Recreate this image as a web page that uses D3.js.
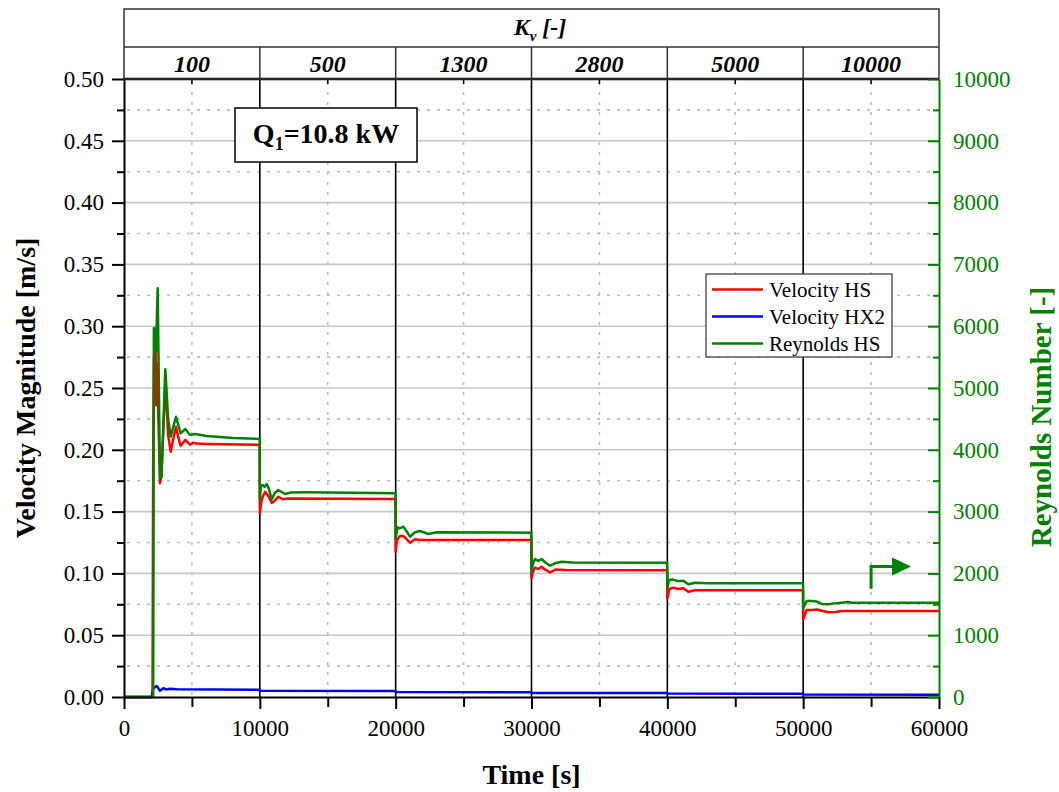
<!DOCTYPE html>
<html><head><meta charset="utf-8">
<script src="https://cdn.jsdelivr.net/npm/d3@7"></script>
<style>body{margin:0;background:#fff}svg{display:block}</style>
</head><body><svg id="c" width="1059" height="792"></svg>
<script>
// ---------------- data ----------------
const kvLabels = ["100", "500", "1300", "2800", "5000", "10000"];
const kvStarts = [0, 10000, 20000, 30000, 40000, 50000];
const seriesNames = ["Velocity HS", "Velocity HX2", "Reynolds HS"];

const timeHS = [0,2100,2150,2200,2250,2330,2370,2430,2650,2750,3043,3250,3436,3650,3828,4000,4170,4515,4859,5100,5300,6086,9990,
  10000,10100,10211,10400,10600,10873,11100,11360,11700,12000,19990,
  20000,20080,20250,20450,20650,21055,21424,21800,29990,
  30000,30100,30257,30500,30748,31000,31362,31800,32500,39990,
  40000,40150,40442,40800,41178,41546,42037,49990,
  50000,50260,50628,50997,51365,51856,52400,52837,60000];
const velocityHS = [0,0,0.20,0.272,0.285,0.283,0.236,0.27,0.173,0.178,0.255,0.212,0.1985,0.21,0.2187,0.21,0.2033,0.208,0.2041,0.2058,0.2050,0.2047,0.2041,
  0.1486,0.158,0.162,0.166,0.163,0.157,0.159,0.162,0.160,0.1605,0.1602,
  0.1176,0.126,0.1297,0.1305,0.1295,0.1248,0.1276,0.127,0.127,
  0.096,0.101,0.1046,0.1035,0.1054,0.103,0.1008,0.1032,0.1027,0.1025,
  0.0798,0.0874,0.0885,0.0874,0.088,0.0852,0.0863,0.0863,
  0.0629,0.0704,0.0704,0.0708,0.0698,0.0685,0.0688,0.0696,0.0696];

const timeHX2 = [0,2036,2150,2405,2650,2896,3141,3387,3878,9990,10000,19990,20000,29990,30000,39990,40000,49990,50000,60000];
const velocityHX2 = [0,0,0.0070,0.0089,0.0051,0.0071,0.0060,0.0066,0.0062,0.0058,0.0050,0.0048,0.0040,0.0039,0.0033,0.0032,0.0028,0.0027,0.0020,0.0019];

const timeRe = [0,2150,2200,2300,2356,2479,2650,2760,3043,3250,3436,3828,4170,4515,4859,5227,6086,8050,9990,
  10000,10080,10211,10350,10505,10650,10873,11100,11360,11853,12300,13450,19990,
  20000,20123,20300,20565,20750,21055,21424,21792,22405,23018,29990,
  30000,30100,30257,30500,30748,31000,31362,31730,32221,33000,39990,
  40000,40122,40442,40800,41178,41546,42037,43000,49990,
  50000,50260,50628,50997,51365,51856,52300,52837,53300,53574,60000];
const reynoldsHS = [0,0,5970,5960,5600,6613,3540,3560,5302,4500,4212,4535,4267,4336,4239,4255,4223,4191,4175,
  3200,3420,3430,3400,3446,3380,3199,3300,3349,3285,3310,3312,3296,
  2560,2746,2730,2756,2700,2594,2665,2686,2637,2665,2659,
  2020,2150,2233,2200,2233,2180,2125,2163,2189,2178,2173,
  1759,1893,1900,1875,1882,1823,1849,1840,1840,
  1435,1553,1553,1545,1505,1500,1515,1526,1537,1526,1526];

const velTicks = [0,0.05,0.10,0.15,0.20,0.25,0.30,0.35,0.40,0.45,0.50];
const velMinor = [0.025,0.075,0.125,0.175,0.225,0.275,0.325,0.375,0.425,0.475];
const reTicks = [0,1000,2000,3000,4000,5000,6000,7000,8000,9000,10000];
const reMinor = [500,1500,2500,3500,4500,5500,6500,7500,8500,9500];
const timeTicks = [0,10000,20000,30000,40000,50000,60000];
const timeMinor = [5000,15000,25000,35000,45000,55000];

// ---------------- chart ----------------
const svg = d3.select("#c");
const FONT = "Liberation Serif";
const GREEN = "#008000";
const x = d3.scaleLinear().domain([0, 60000]).range([124, 939]);
const yL = d3.scaleLinear().domain([0, 0.5]).range([697, 79]);
const yR = d3.scaleLinear().domain([0, 10000]).range([697, 79]);
const [x0, x1] = x.range();
const [yb, yt] = yL.range();

svg.append("rect").attr("width", 1059).attr("height", 792).attr("fill", "#fff");

// grid
const grid = svg.append("g");
grid.selectAll(".hmaj").data(velTicks.slice(1, -1)).join("line")
  .attr("x1", x0).attr("x2", x1).attr("y1", d => yL(d)).attr("y2", d => yL(d))
  .attr("stroke", "#c8c8c8").attr("stroke-width", 1.6);
grid.selectAll(".hmin").data(velMinor).join("line")
  .attr("x1", x0 + 3).attr("x2", x1).attr("y1", d => yL(d)).attr("y2", d => yL(d))
  .attr("stroke", "#bdbdbd").attr("stroke-width", 1.6).attr("stroke-dasharray", "3,7");
grid.selectAll(".vmin").data(timeMinor).join("line")
  .attr("x1", d => x(d)).attr("x2", d => x(d)).attr("y1", yt + 3).attr("y2", yb)
  .attr("stroke", "#bdbdbd").attr("stroke-width", 1.6).attr("stroke-dasharray", "3,7");
grid.selectAll(".vmaj").data(kvStarts.slice(1)).join("line")
  .attr("x1", d => x(d)).attr("x2", d => x(d)).attr("y1", yt).attr("y2", yb)
  .attr("stroke", "#000").attr("stroke-width", 1.6);

// series
const lineL = d3.line().x(d => x(d[0])).y(d => yL(d[1]));
const lineR = d3.line().x(d => x(d[0])).y(d => yR(d[1]));
svg.append("path").datum(d3.zip(timeHS, velocityHS)).attr("d", lineL)
  .attr("fill", "none").attr("stroke", "#ff0000").attr("stroke-width", 2.5).attr("stroke-linejoin", "round");
svg.append("path").datum(d3.zip(timeHX2, velocityHX2)).attr("d", lineL)
  .attr("fill", "none").attr("stroke", "#0000ff").attr("stroke-width", 2.5).attr("stroke-linejoin", "round");
svg.append("path").datum(d3.zip(timeRe, reynoldsHS)).attr("d", lineR)
  .attr("fill", "none").attr("stroke", GREEN).attr("stroke-width", 2.5).attr("stroke-linejoin", "round");

// axes
function style(g, color, fs) {
  g.attr("font-family", FONT);
  g.selectAll("path.domain").attr("stroke", color).attr("stroke-width", 2);
  g.selectAll(".tick line").attr("stroke", color).attr("stroke-width", 2);
  g.selectAll(".tick text").attr("fill", color).attr("font-family", FONT).attr("font-size", fs);
}
const gL = svg.append("g").attr("transform", `translate(${x0},0)`)
  .call(d3.axisLeft(yL).tickValues(velTicks).tickSize(12).tickSizeOuter(0).tickPadding(8).tickFormat(d3.format(".2f")));
style(gL, "#000", 23);
const gLm = svg.append("g").attr("transform", `translate(${x0},0)`)
  .call(d3.axisLeft(yL).tickValues(velMinor).tickSize(7).tickFormat(""));
style(gLm, "#000", 23); gLm.select(".domain").remove();

const gB = svg.append("g").attr("transform", `translate(0,${yb})`)
  .call(d3.axisBottom(x).tickValues(timeTicks).tickSize(12).tickSizeOuter(0).tickPadding(11).tickFormat(d3.format("d")));
style(gB, "#000", 23);
const gBm = svg.append("g").attr("transform", `translate(0,${yb})`)
  .call(d3.axisBottom(x).tickValues(timeMinor).tickSize(10).tickFormat(""));
style(gBm, "#000", 23); gBm.select(".domain").remove();

// top border with inward minor ticks
svg.append("line").attr("x1", x0 - 1).attr("x2", x1).attr("y1", yt).attr("y2", yt).attr("stroke", "#000").attr("stroke-width", 2.5);
svg.selectAll(".topTick").data(timeMinor).join("line")
  .attr("x1", d => x(d)).attr("x2", d => x(d)).attr("y1", yt).attr("y2", yt + 5)
  .attr("stroke", "#000").attr("stroke-width", 1.5);

const gR = svg.append("g").attr("transform", `translate(${x1},0)`)
  .call(d3.axisRight(yR).tickValues(reTicks).tickSizeInner(-11).tickSizeOuter(0).tickPadding(14).tickFormat(d3.format("d")));
style(gR, GREEN, 23);
const gRm = svg.append("g").attr("transform", `translate(${x1},0)`)
  .call(d3.axisRight(yR).tickValues(reMinor).tickSizeInner(-6).tickFormat(""));
style(gRm, GREEN, 23); gRm.select(".domain").remove();

// axis titles
svg.append("text").attr("x", (x0 + x1) / 2).attr("y", 784).attr("text-anchor", "middle")
  .attr("font-family", FONT).attr("font-weight", "bold").attr("font-size", 28).text("Time [s]");
svg.append("text").attr("transform", `translate(35,${(yt + yb) / 2}) rotate(-90)`).attr("text-anchor", "middle")
  .attr("font-family", FONT).attr("font-weight", "bold").attr("font-size", 28).text("Velocity Magnitude [m/s]");
svg.append("text").attr("transform", `translate(1051,417) rotate(-90)`).attr("text-anchor", "middle")
  .attr("font-family", FONT).attr("font-weight", "bold").attr("font-size", 29).attr("fill", GREEN).text("Reynolds Number [-]");

// header (Kv)
const hdr = svg.append("g");
hdr.append("rect").attr("x", x0).attr("y", 9).attr("width", x1 - x0).attr("height", yt - 9)
  .attr("fill", "none").attr("stroke", "#333").attr("stroke-width", 1.5);
hdr.append("line").attr("x1", x0).attr("x2", x1).attr("y1", 47).attr("y2", 47).attr("stroke", "#333").attr("stroke-width", 1.5);
hdr.selectAll(".div").data(kvStarts.slice(1)).join("line")
  .attr("x1", d => x(d)).attr("x2", d => x(d)).attr("y1", 47).attr("y2", yt).attr("stroke", "#333").attr("stroke-width", 1.5);
hdr.selectAll(".kv").data(kvLabels).join("text")
  .attr("x", (d, i) => x(kvStarts[i] + 5000)).attr("y", 72).attr("text-anchor", "middle")
  .attr("font-family", FONT).attr("font-weight", "bold").attr("font-style", "italic").attr("font-size", 24).text(d => d);
const kt = hdr.append("text").attr("x", 540).attr("y", 35).attr("text-anchor", "middle")
  .attr("font-family", FONT).attr("font-weight", "bold").attr("font-style", "italic").attr("font-size", 24);
kt.append("tspan").text("K");
kt.append("tspan").attr("dy", 6).attr("font-size", 15).text("v");
kt.append("tspan").attr("dy", -6).text(" [-]");

// Q1 box
svg.append("rect").attr("x", 235).attr("y", 108).attr("width", 182).attr("height", 54)
  .attr("fill", "#fff").attr("stroke", "#000").attr("stroke-width", 1.5);
const qt = svg.append("text").attr("x", 326).attr("y", 143).attr("text-anchor", "middle")
  .attr("font-family", FONT).attr("font-weight", "bold").attr("font-size", 28);
qt.append("tspan").text("Q");
qt.append("tspan").attr("dy", 7).attr("font-size", 18).text("1");
qt.append("tspan").attr("dy", -7).text("=10.8 kW");

// legend
const lg = svg.append("g");
lg.append("rect").attr("x", 706).attr("y", 274).attr("width", 186).attr("height", 83)
  .attr("fill", "#fff").attr("stroke", "#333").attr("stroke-width", 1.2);
const lcol = ["#ff0000", "#0000ff", GREEN];
seriesNames.forEach((n, i) => {
  const yy = 289.5 + i * 27;
  lg.append("line").attr("x1", 712).attr("x2", 763).attr("y1", yy).attr("y2", yy).attr("stroke", lcol[i]).attr("stroke-width", 2.5);
  lg.append("text").attr("x", 769).attr("y", yy + 7).attr("font-family", FONT).attr("font-size", 21).text(n);
});

// arrow pointing to right axis
const ax = x(55000), ay = yR(2110);
svg.append("path").attr("d", `M${ax},${yR(1750)}V${ay}H${ax + 23}`).attr("fill", "none").attr("stroke", GREEN).attr("stroke-width", 3);
svg.append("path").attr("d", `M${ax + 21},${ay - 9}L${ax + 40},${ay}L${ax + 21},${ay + 9}Z`).attr("fill", GREEN);
</script></body></html>
